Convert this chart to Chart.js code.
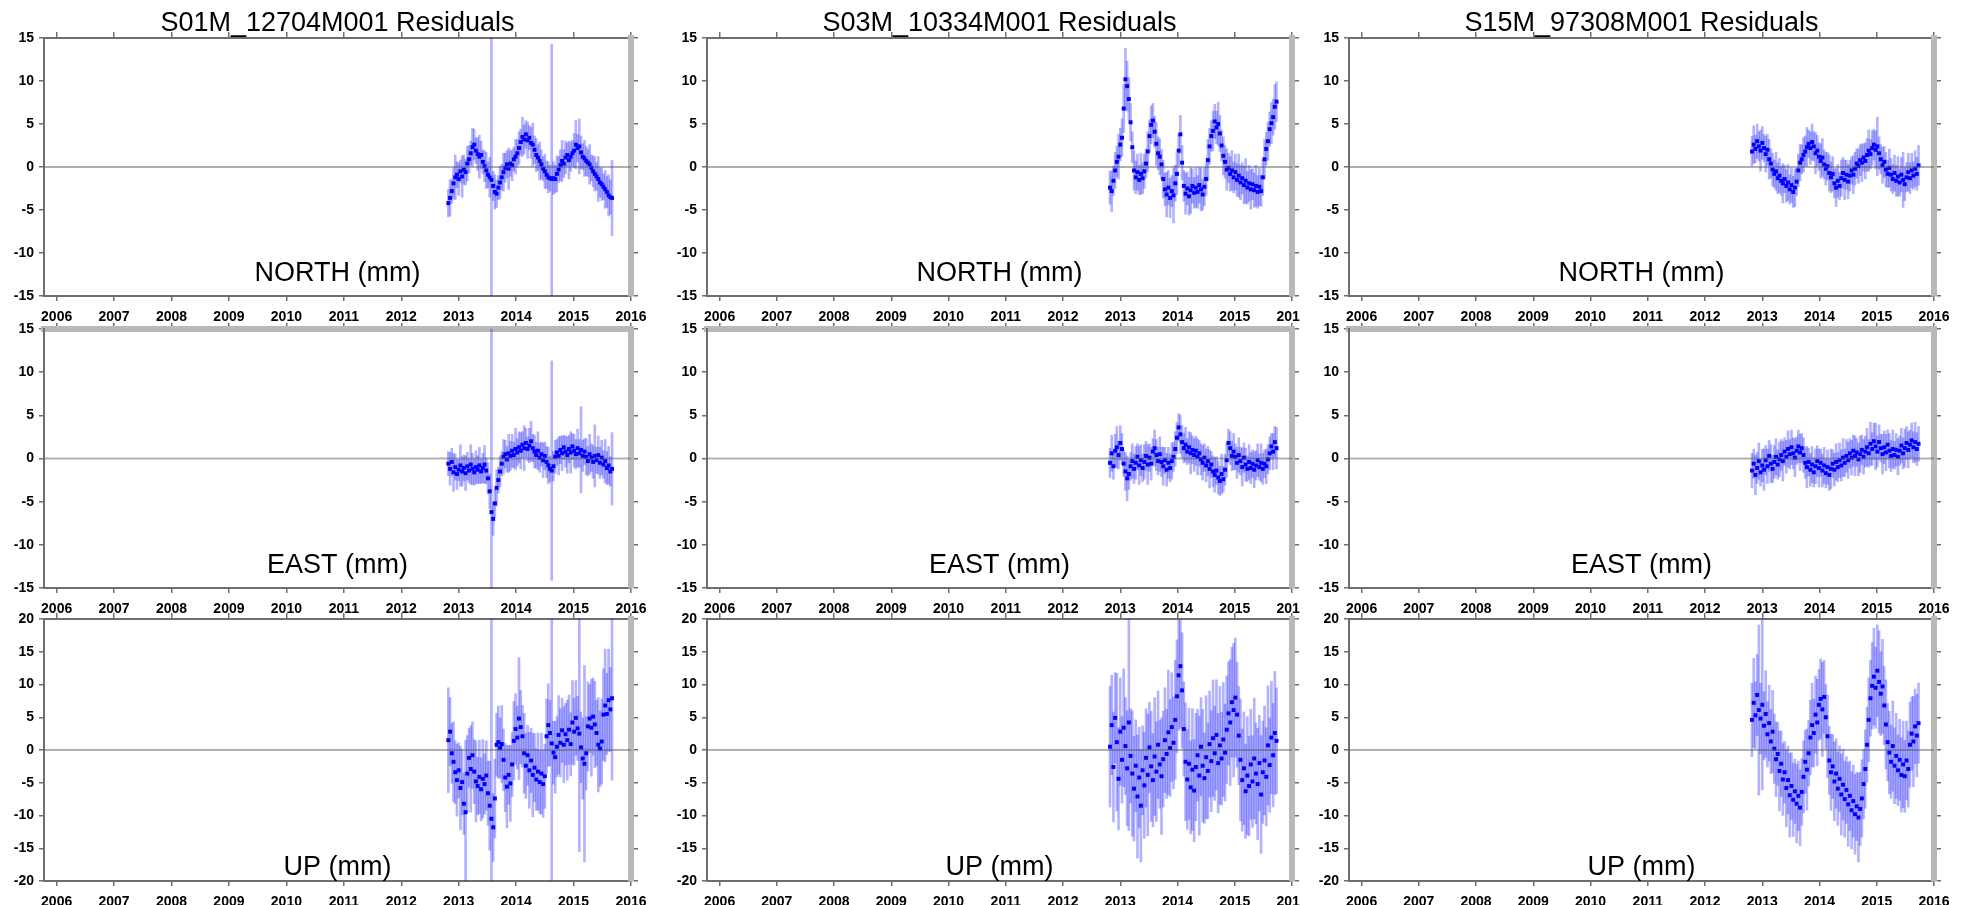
<!DOCTYPE html>
<html><head><meta charset="utf-8">
<script src="https://cdn.jsdelivr.net/npm/chart.js@4.4.1/dist/chart.umd.min.js"></script>
<style>
html,body{margin:0;padding:0;background:#fff;width:1968px;height:905px;overflow:hidden;position:relative}
canvas{position:absolute}
</style></head><body>
<script>
// ---------- DATA ----------
const TITLES = ['S01M_12704M001 Residuals', 'S03M_10334M001 Residuals', 'S15M_97308M001 Residuals'];
const COMPONENTS = ['NORTH (mm)', 'EAST (mm)', 'UP (mm)'];
const YEAR_TICKS = [2006, 2007, 2008, 2009, 2010, 2011, 2012, 2013, 2014, 2015, 2016];
const NE_TICKS = [-15, -10, -5, 0, 5, 10, 15];
const UP_TICKS = [-20, -15, -10, -5, 0, 5, 10, 15, 20];
const X_MIN = 2005.78, X_MAX = 2016.0;

const DATES_S01M = [
2012.82,2012.85,2012.88,2012.91,2012.94,2012.97,2013.00,2013.03,2013.06,2013.09,
2013.12,2013.15,2013.18,2013.21,2013.24,2013.27,2013.30,2013.33,2013.36,2013.39,
2013.42,2013.45,2013.48,2013.51,2013.54,2013.57,2013.60,2013.63,2013.66,2013.69,
2013.72,2013.75,2013.78,2013.81,2013.84,2013.87,2013.90,2013.93,2013.96,2013.99,
2014.02,2014.05,2014.08,2014.11,2014.14,2014.17,2014.20,2014.23,2014.26,2014.29,
2014.32,2014.35,2014.38,2014.41,2014.44,2014.47,2014.50,2014.53,2014.56,2014.59,
2014.62,2014.65,2014.68,2014.71,2014.74,2014.77,2014.80,2014.83,2014.86,2014.89,
2014.92,2014.95,2014.98,2015.01,2015.04,2015.07,2015.10,2015.13,2015.16,2015.19,
2015.22,2015.25,2015.28,2015.31,2015.34,2015.37,2015.40,2015.43,2015.46,2015.49,
2015.52,2015.55,2015.58,2015.61,2015.64,2015.67];
const N_S01M = [
-4.2,-3.6,-2.8,-1.9,-1.2,-0.9,-1.4,-0.5,-1.1,-0.3,
-0.6,0.4,0.9,1.6,2.3,2.6,1.9,1.5,1.2,1.4,
0.6,0.1,-0.4,-0.9,-1.2,-1.5,-2.2,-2.9,-3.1,-2.4,
-1.8,-1.2,-0.6,-0.1,0.3,-0.2,0.4,0.2,0.9,1.2,
1.6,2.2,2.9,3.5,3.2,3.8,3.1,3.4,2.8,2.6,
2.0,1.4,1.1,0.7,0.3,-0.2,-0.5,-0.9,-1.2,-1.3,
-1.4,-1.3,-1.4,-0.8,-0.3,0.2,0.7,0.4,1.1,1.4,
0.8,1.2,1.6,1.9,2.6,2.2,2.4,1.7,1.2,1.0,
0.7,0.5,0.3,-0.1,-0.5,-0.8,-1.1,-1.4,-1.8,-2.0,
-2.3,-2.6,-2.9,-3.3,-3.5,-3.6];
const SN_S01M = [
1.6,2.1,1.4,1.8,2.6,1.5,1.9,1.3,2.4,1.7,
1.5,2.0,1.6,1.4,2.2,1.8,1.5,1.9,2.5,1.6,
1.4,1.8,2.1,1.5,2.3,30,1.7,2.0,1.6,1.4,
1.9,1.5,2.2,1.7,1.6,2.4,1.5,1.8,1.4,2.0,
1.6,1.9,1.5,2.3,1.7,1.6,2.1,1.4,1.8,2.5,
1.6,1.9,1.5,2.2,1.7,1.4,2.0,1.6,1.8,1.5,
15.7,1.9,1.6,2.1,1.5,1.8,2.4,1.6,1.9,1.4,
2.2,1.7,1.5,2.0,2.8,1.6,3.2,1.9,1.5,2.1,
1.7,1.6,2.3,1.5,1.8,2.0,1.6,2.6,1.7,1.9,
1.5,2.2,1.8,2.4,2.0,4.4];
const E_S01M = [
-0.6,-1.2,-0.4,-1.6,-1.0,-1.8,-1.3,-0.8,-1.5,-1.1,
-1.7,-0.9,-1.4,-0.7,-1.2,-1.6,-1.0,-1.3,-0.8,-1.5,
-1.1,-0.7,-1.4,-2.3,-3.8,-6.2,-7.0,-5.2,-3.4,-2.5,
-1.5,-0.6,0.2,0.5,-0.1,0.6,0.3,0.9,0.4,1.1,
0.7,1.3,0.9,1.6,1.2,1.8,1.1,1.5,2.0,1.2,
0.8,0.4,0.9,0.1,0.5,-0.2,0.3,-0.4,-0.8,-1.2,
-1.4,-0.9,0.2,0.7,0.3,1.0,0.6,1.3,0.8,0.4,
1.1,0.7,1.4,0.9,0.5,1.2,0.6,1.0,0.3,0.8,
0.2,-0.3,0.5,0.1,-0.4,0.3,-0.2,0.4,-0.5,0.1,
-0.7,-0.3,-1.1,-0.8,-1.5,-1.2];
const SE_S01M = [
1.4,1.9,1.6,2.2,1.5,1.8,1.3,2.4,1.7,1.5,
2.0,1.6,1.4,2.3,1.8,1.5,1.9,1.6,2.1,1.4,
1.7,2.2,1.5,1.8,2.0,25,1.9,1.6,2.1,1.5,
1.8,1.4,2.0,1.6,1.5,2.2,1.7,1.9,1.5,2.4,
1.6,1.8,2.1,1.5,2.6,1.7,1.4,2.0,2.3,1.6,
1.9,1.5,2.2,1.7,1.4,2.0,1.6,1.8,2.1,1.5,
12.7,1.7,1.9,1.5,2.2,1.6,2.0,1.4,1.8,2.1,
1.6,2.4,1.5,1.9,1.7,2.2,1.6,5.0,1.8,1.5,
2.1,1.7,2.3,1.6,1.9,3.6,1.5,2.2,1.8,2.0,
1.6,2.5,1.9,2.2,1.7,4.2];
const U_S01M = [
1.5,2.8,-0.5,-1.8,-3.4,-4.6,-3.1,-5.8,-4.9,-8.2,
-9.5,-3.6,-1.2,-2.9,-0.8,-3.3,-4.8,-5.5,-4.1,-6.0,
-4.4,-5.2,-3.9,-6.6,-8.5,-10.5,-11.8,-7.4,0.8,1.2,
0.3,0.9,-1.5,-4.2,-5.6,-3.8,-5.1,-2.2,1.4,3.2,
1.9,4.8,3.5,2.1,-0.5,-2.4,-0.8,-3.1,-1.6,-3.8,
-2.7,-4.5,-3.3,-4.9,-3.6,-5.2,-4.0,2.1,3.8,2.6,
1.0,-0.4,-1.1,0.5,2.3,1.1,3.0,0.8,2.4,1.5,
3.1,0.9,4.2,2.8,4.9,3.3,2.5,0.4,-1.3,-2.1,
-0.5,3.6,4.8,3.4,5.1,3.9,2.6,0.8,0.2,1.3,
5.4,6.8,5.5,7.6,6.2,7.9];
const SU_S01M = [
8.0,5.2,4.6,6.1,4.8,5.5,4.2,6.4,5.0,4.7,
11.0,5.8,4.5,6.6,5.1,4.9,6.2,4.4,5.6,4.8,
6.0,4.6,5.3,4.9,6.8,35,5.2,6.0,4.8,5.5,
4.6,5.9,4.7,5.2,6.3,4.5,5.8,4.9,6.0,5.4,
4.8,9.3,5.6,4.7,6.1,5.0,4.6,5.8,4.9,6.4,
5.2,4.7,5.9,4.8,6.2,5.1,4.9,5.7,6.3,5.0,
30,4.8,5.5,4.6,6.0,5.2,4.9,5.8,4.7,6.1,
5.3,4.8,6.4,5.1,5.7,4.9,18,5.4,6.2,15,
5.6,6.8,5.2,7.4,5.9,6.6,5.0,7.2,5.8,6.5,
7.0,8.6,6.2,7.8,6.4,12.5];

const DATES_S03M = [
2012.82,2012.85,2012.88,2012.91,2012.94,2012.97,2013.00,2013.03,2013.06,2013.09,
2013.12,2013.15,2013.18,2013.21,2013.24,2013.27,2013.30,2013.33,2013.36,2013.39,
2013.42,2013.45,2013.48,2013.51,2013.54,2013.57,2013.60,2013.63,2013.66,2013.69,
2013.72,2013.75,2013.78,2013.81,2013.84,2013.87,2013.90,2013.93,2013.96,2013.99,
2014.02,2014.05,2014.08,2014.11,2014.14,2014.17,2014.20,2014.23,2014.26,2014.29,
2014.32,2014.35,2014.38,2014.41,2014.44,2014.47,2014.50,2014.53,2014.56,2014.59,
2014.62,2014.65,2014.68,2014.71,2014.74,2014.77,2014.80,2014.83,2014.86,2014.89,
2014.92,2014.95,2014.98,2015.01,2015.04,2015.07,2015.10,2015.13,2015.16,2015.19,
2015.22,2015.25,2015.28,2015.31,2015.34,2015.37,2015.40,2015.43,2015.46,2015.49,
2015.52,2015.55,2015.58,2015.61,2015.64,2015.67,2015.70,2015.73];
const N_S03M = [
-2.4,-2.8,-1.6,-0.4,0.6,1.2,2.6,3.4,6.8,10.2,
9.4,7.9,5.2,2.3,-0.4,-1.2,-0.6,-1.5,-0.8,-1.3,
-0.5,0.4,1.8,3.6,4.9,5.4,4.1,2.7,1.6,1.2,
0.3,-1.4,-2.6,-3.2,-2.4,-3.6,-2.8,-3.3,-1.9,-0.8,
1.9,3.8,0.5,-2.2,-3.1,-2.5,-3.4,-2.7,-2.2,-3.0,
-2.4,-2.9,-2.1,-2.6,-3.2,-2.3,-1.4,0.8,2.4,3.6,
4.2,5.3,4.6,5.0,3.9,2.5,1.3,0.6,-0.3,-0.1,
-0.8,-0.4,-1.2,-0.6,-1.5,-1.0,-1.8,-1.3,-2.1,-1.6,
-2.4,-1.9,-2.6,-2.0,-2.7,-2.2,-2.9,-2.3,-2.8,-1.2,
0.9,2.1,3.0,4.4,5.1,5.8,7.0,7.6];
const SN_S03M = [
1.9,2.4,1.7,2.1,1.8,2.6,1.9,2.2,2.8,3.6,
2.9,2.5,2.2,1.8,2.3,1.9,2.1,1.7,2.4,1.8,
2.0,1.7,2.3,1.9,2.2,2.0,1.8,2.5,1.9,2.1,
1.7,2.2,1.9,2.6,2.0,2.3,1.8,3.2,2.1,2.4,
1.9,2.2,2.0,1.8,2.4,1.9,2.2,2.7,2.0,1.8,
2.3,1.9,2.1,2.5,1.8,2.2,1.9,2.4,2.1,1.8,
2.3,2.0,1.9,2.5,2.1,1.8,2.2,1.9,2.4,1.7,
2.0,2.3,1.8,2.1,1.9,2.5,2.0,1.8,2.2,2.6,
1.9,2.1,2.3,1.8,2.0,2.4,1.9,2.2,1.8,2.1,
2.3,1.9,2.2,2.0,2.4,2.1,2.6,2.3];
const E_S03M = [
-0.5,0.6,-0.9,0.9,1.3,0.4,1.8,1.1,-0.6,-1.5,
-2.3,-1.8,-0.9,-0.3,-1.2,-0.5,0.2,-0.8,-0.2,-1.1,
-0.4,0.3,-0.7,0.1,-0.6,0.8,1.2,0.4,-0.3,0.5,
-0.4,-0.9,-0.2,-1.3,-0.5,-1.1,-0.3,0.2,1.1,2.4,
3.6,2.8,1.9,1.2,1.6,0.8,1.3,0.6,1.0,0.4,
0.9,0.2,0.6,-0.1,-0.5,0.1,-0.8,-0.3,-1.2,-0.7,
-1.5,-1.9,-1.4,-2.2,-2.6,-1.8,-2.4,-1.3,-0.2,1.8,
1.2,0.3,0.8,0.2,-0.5,0.4,-0.3,-1.0,0.1,-0.7,
-1.2,-0.4,-1.1,-0.6,-1.3,-0.8,-0.2,-1.0,-0.5,-1.2,
-0.6,-0.9,-0.1,0.6,1.4,0.8,1.9,1.2];
const SE_S03M = [
1.7,2.1,1.5,1.9,2.4,1.6,2.0,1.8,1.5,2.2,
2.6,1.8,1.6,2.0,1.7,1.9,1.5,2.2,1.8,1.6,
2.0,1.7,2.3,1.6,1.9,1.5,2.1,1.8,1.6,2.0,
1.7,2.2,1.5,1.9,1.8,1.6,2.1,1.7,2.0,1.8,
1.6,2.2,1.9,1.7,2.0,1.5,1.8,2.4,1.6,1.9,
1.7,2.1,1.5,1.8,2.0,1.6,1.9,1.7,2.2,1.5,
1.8,2.0,1.6,1.9,1.7,2.3,1.5,1.8,2.0,1.6,
1.9,1.7,2.1,1.5,1.8,2.0,1.6,2.2,1.7,1.9,
1.5,2.0,1.8,1.6,2.1,1.7,1.9,1.5,2.2,1.8,
1.6,2.0,1.7,1.9,1.5,2.1,1.8,2.4];
const U_S03M = [
0.5,3.8,-2.6,4.9,1.2,-4.4,2.8,-1.5,3.4,0.6,
-2.8,4.2,-0.9,-3.6,-5.9,-2.4,-7.1,-4.2,-8.5,-3.1,
-5.4,-1.2,-3.8,0.4,-2.5,-4.6,-1.0,-3.3,0.8,-2.2,
-4.0,-1.4,1.5,-0.6,2.7,0.3,3.5,1.1,4.6,8.2,
11.4,12.8,9.1,3.2,-1.8,-4.5,-2.1,-5.7,-3.0,-6.2,
-2.6,-0.8,-3.9,0.5,-2.4,-4.3,-1.1,-3.2,0.9,-1.7,
1.8,-0.5,2.3,-2.0,0.7,-1.3,1.6,-0.4,3.1,5.6,
4.2,7.3,6.1,8.0,5.4,2.2,-1.5,-4.6,-2.8,-6.3,
-3.9,-5.5,-2.2,-4.8,-1.3,-3.6,-5.2,-2.0,-6.8,-3.4,
-1.6,-4.1,0.7,-2.3,1.9,-0.8,2.6,1.4];
const SU_S03M = [
9.2,7.6,8.4,6.9,10.5,7.8,8.2,6.6,9.0,7.4,
8.8,16.5,7.2,9.6,8.0,7.0,9.4,7.7,8.6,6.8,
8.1,7.5,9.3,6.9,8.4,7.1,9.0,7.6,8.2,6.7,
8.9,7.3,8.0,6.8,9.5,7.4,8.3,7.0,9.1,8.6,
8.4,9.5,8.8,7.2,9.0,7.6,8.5,7.1,9.3,7.8,
8.2,7.0,9.1,7.5,8.6,6.9,9.4,7.3,8.1,7.7,
8.9,7.2,8.4,7.6,9.0,7.1,8.7,7.4,8.2,7.9,
9.6,8.4,10.2,9.1,8.0,7.5,9.3,7.8,8.6,7.2,
9.0,7.6,8.4,7.0,9.2,7.7,8.5,7.3,9.0,7.8,
8.3,7.5,9.1,7.2,8.6,7.9,9.4,8.1];

const DATES_S15M = [
2012.82,2012.85,2012.88,2012.91,2012.94,2012.97,2013.00,2013.03,2013.06,2013.09,
2013.12,2013.15,2013.18,2013.21,2013.24,2013.27,2013.30,2013.33,2013.36,2013.39,
2013.42,2013.45,2013.48,2013.51,2013.54,2013.57,2013.60,2013.63,2013.66,2013.69,
2013.72,2013.75,2013.78,2013.81,2013.84,2013.87,2013.90,2013.93,2013.96,2013.99,
2014.02,2014.05,2014.08,2014.11,2014.14,2014.17,2014.20,2014.23,2014.26,2014.29,
2014.32,2014.35,2014.38,2014.41,2014.44,2014.47,2014.50,2014.53,2014.56,2014.59,
2014.62,2014.65,2014.68,2014.71,2014.74,2014.77,2014.80,2014.83,2014.86,2014.89,
2014.92,2014.95,2014.98,2015.01,2015.04,2015.07,2015.10,2015.13,2015.16,2015.19,
2015.22,2015.25,2015.28,2015.31,2015.34,2015.37,2015.40,2015.43,2015.46,2015.49,
2015.52,2015.55,2015.58,2015.61,2015.64,2015.67,2015.70,2015.73];
const N_S15M = [
1.8,2.6,2.1,3.0,2.4,1.9,2.8,2.2,1.5,2.0,
0.9,0.4,-0.3,-0.8,-0.5,-1.3,-1.0,-1.6,-1.9,-1.4,
-2.2,-1.8,-2.6,-2.1,-2.9,-2.4,-1.7,-0.4,0.5,0.9,
1.4,1.8,2.3,2.7,2.2,2.9,2.4,1.6,1.9,1.2,
0.7,1.1,0.3,-0.2,0.1,-0.7,-1.2,-0.8,-1.9,-2.4,
-1.6,-2.2,-1.3,-0.7,-1.5,-0.9,-1.7,-1.0,-0.4,-0.9,
-0.2,0.4,0.1,0.8,0.5,1.1,0.7,1.4,1.9,1.5,
2.2,2.6,2.0,2.4,1.6,0.9,0.2,0.6,-0.3,-0.8,
-0.1,-0.9,-1.4,-0.7,-1.6,-1.1,-1.8,-0.9,-1.5,-2.0,
-1.2,-0.6,-1.3,-0.4,-1.0,-0.2,-0.8,0.2];
const SN_S15M = [
1.8,2.2,1.6,2.0,1.7,2.4,1.9,1.6,2.1,1.8,
2.3,1.7,1.9,1.6,2.2,1.8,2.0,1.7,2.3,1.6,
1.9,2.1,1.7,2.0,1.8,2.2,1.6,1.9,2.1,1.7,
2.0,1.8,2.3,1.6,1.9,2.1,1.7,2.4,1.8,1.6,
2.0,2.2,1.7,1.9,1.6,2.1,1.8,2.0,1.7,2.2,
1.9,1.6,2.1,1.8,2.3,1.7,2.0,1.8,1.6,2.2,
1.9,1.7,2.0,1.8,2.2,1.6,2.1,1.9,2.4,1.7,
2.0,1.8,2.2,3.4,1.9,1.7,2.1,1.8,2.0,1.6,
2.2,1.9,1.7,2.1,1.8,2.3,1.6,2.0,3.2,1.9,
1.7,2.2,1.8,2.0,1.6,2.1,1.9,2.3];
const E_S15M = [
-1.4,-0.6,-1.9,-1.1,-0.3,-1.6,-0.8,-1.3,-0.2,-0.9,
0.3,-0.6,-1.2,-0.4,0.2,-0.7,-0.1,0.4,-0.3,0.8,
0.2,1.1,0.5,1.3,0.6,0.1,0.9,1.4,0.7,1.2,
0.4,-0.5,-1.0,-0.4,-1.3,-0.7,-1.6,-0.9,-0.3,-1.1,
-0.5,-1.4,-0.8,-1.7,-1.0,-1.9,-1.2,-0.6,-1.3,-0.4,
-1.0,-0.2,-0.8,0.1,-0.5,0.3,-0.2,0.6,0.1,0.9,
0.3,0.7,-0.1,0.5,1.0,0.2,0.8,1.3,0.6,1.7,
1.1,2.0,1.4,0.8,1.9,1.2,0.5,1.3,0.7,1.6,
0.9,0.3,1.1,0.4,1.0,0.2,0.9,1.5,0.6,1.2,
1.8,1.0,1.6,2.1,1.3,1.9,1.1,1.7];
const SE_S15M = [
2.0,1.7,2.3,1.8,2.1,1.6,1.9,2.4,1.7,2.0,
1.8,2.2,1.6,1.9,2.1,1.7,2.0,1.8,2.3,1.6,
1.9,2.1,1.7,2.0,1.8,2.2,1.6,1.9,2.1,1.7,
2.0,1.8,2.4,1.6,1.9,2.1,1.7,2.0,1.8,2.2,
1.6,1.9,2.1,1.7,2.0,1.8,2.3,1.6,1.9,2.1,
1.7,2.0,1.8,2.2,1.6,1.9,2.1,1.7,2.0,1.8,
2.3,1.6,1.9,2.1,1.7,2.0,1.8,2.2,1.6,2.5,
1.9,2.1,2.7,1.8,2.0,1.6,2.3,1.9,2.1,1.7,
2.0,1.8,2.2,1.6,1.9,2.1,1.7,2.0,1.8,2.2,
1.9,2.1,1.7,2.0,1.8,2.3,1.9,2.0];
const U_S15M = [
4.6,7.2,5.3,8.4,6.1,4.8,6.9,3.7,5.5,2.4,
4.1,1.3,2.8,0.2,-1.4,-0.6,-3.2,-2.1,-4.5,-3.4,
-5.8,-4.6,-6.9,-5.5,-7.6,-6.3,-8.2,-7.0,-8.8,-6.4,
-4.1,-1.8,-3.0,-0.5,1.9,3.8,2.6,5.4,4.2,6.9,
7.8,6.2,8.1,5.0,2.1,-1.6,-3.4,-2.5,-4.8,-3.6,
-5.9,-4.4,-6.8,-5.3,-7.5,-6.1,-8.3,-7.0,-9.2,-7.8,
-9.8,-8.6,-10.3,-9.0,-7.4,-5.2,-2.9,0.8,4.6,7.9,
9.8,11.2,9.5,12.1,10.4,8.6,9.7,6.8,3.9,1.2,
-0.4,-1.8,0.6,-2.4,-0.9,-3.1,-1.5,-3.8,-2.2,-4.0,
-1.6,-2.9,0.8,2.5,1.3,3.6,2.2,4.1];
const SU_S15M = [
5.6,6.8,5.1,6.2,13.0,5.4,13.0,5.2,6.6,5.0,
5.8,4.9,6.3,5.3,5.7,4.8,6.1,5.0,5.5,4.7,
5.9,5.2,6.4,5.1,5.6,4.9,6.0,5.3,5.8,5.1,
5.5,4.8,6.2,5.0,5.7,6.4,5.2,5.9,6.6,5.4,
6.1,7.2,5.6,5.0,6.3,5.2,5.8,4.9,6.0,5.3,
5.6,5.0,6.2,5.4,5.8,5.1,6.4,5.3,5.9,5.5,
6.1,5.2,6.8,5.6,5.9,5.3,6.0,5.7,6.4,5.8,
6.6,7.4,6.2,7.0,7.8,6.4,7.2,6.0,6.8,5.9,
6.3,5.6,6.9,5.8,6.5,5.4,6.2,5.7,6.6,5.5,
6.0,5.8,6.5,5.6,6.9,5.7,6.3,6.1];

// ---------- LAYOUT ----------
const COL_LEFT = [44, 707, 1349], COL_RIGHT = [631, 1292, 1934];
const COL_RIGHT_SPACE = [22, 8, 22];
const ROW_TOP = [38, 329, 619], ROW_BOTTOM = [296, 588, 881];
const LABEL_OFFSET = [15, 15, 6];
const FONT = '"Liberation Sans", Arial, Helvetica, sans-serif';
const AXIS_DARK = '#6e6e6e', AXIS_LIGHT = '#b9b9b9';

const STATIONS = [
  {dates: DATES_S01M, vals: [N_S01M, E_S01M, U_S01M], sig: [SN_S01M, SE_S01M, SU_S01M]},
  {dates: DATES_S03M, vals: [N_S03M, E_S03M, U_S03M], sig: [SN_S03M, SE_S03M, SU_S03M]},
  {dates: DATES_S15M, vals: [N_S15M, E_S15M, U_S15M], sig: [SN_S15M, SE_S15M, SU_S15M]}
];

const panelText = {
  id: 'panelText',
  afterDraw(chart, args, opts) {
    const {ctx, chartArea} = chart;
    ctx.save();
    ctx.fillStyle = '#000';
    ctx.font = '27px ' + FONT;
    ctx.textAlign = 'center';
    ctx.textBaseline = 'alphabetic';
    const cx = (chartArea.left + chartArea.right) / 2;
    ctx.fillText(opts.label, cx, chartArea.bottom - opts.offset);
    if (opts.title) ctx.fillText(opts.title, cx, chartArea.top - 7);
    ctx.restore();
  }
};

function makePanel(r, c) {
  const st = STATIONS[c];
  const dates = st.dates, vals = st.vals[r], sig = st.sig[r];
  const ticks = r === 2 ? UP_TICKS : NE_TICKS;
  const yMin = ticks[0], yMax = ticks[ticks.length - 1];
  const topSpace = r === 0 ? ROW_TOP[0] : 10;
  const LEFT_W = 44, RIGHT_W = COL_RIGHT_SPACE[c], BOTTOM_H = 34;
  const canvas = document.createElement('canvas');
  const W = COL_RIGHT[c] - COL_LEFT[c] + LEFT_W + RIGHT_W;
  const H = ROW_BOTTOM[r] - ROW_TOP[r] + topSpace + BOTTOM_H;
  canvas.width = W; canvas.height = H;
  canvas.style.left = (COL_LEFT[c] - LEFT_W) + 'px';
  canvas.style.top = (ROW_TOP[r] - topSpace) + 'px';
  canvas.style.width = W + 'px'; canvas.style.height = H + 'px';
  document.body.appendChild(canvas);

  const setTicks = arr => s => { s.ticks = arr.map(v => ({value: v})); };
  const tickFont = {family: FONT, size: 14, weight: 'bold'};

  new Chart(canvas, {
    type: 'scatter',
    data: {
      datasets: [
        {
          type: 'line', order: 0,
          data: [{x: X_MIN, y: 0}, {x: X_MAX, y: 0}],
          borderColor: 'rgba(80,80,80,0.45)', borderWidth: 2,
          pointRadius: 0, fill: false
        },
        {
          type: 'scatter', order: 1,
          data: dates.map((d, i) => ({x: d, y: vals[i]})),
          pointStyle: 'rect', pointRadius: 2.8,
          backgroundColor: '#0000ff', pointBackgroundColor: '#0000ff',
          borderWidth: 0, pointBorderWidth: 0, showLine: false
        },
        {
          type: 'bar', order: 2,
          data: dates.map((d, i) => ({x: d, y: [vals[i] - sig[i], vals[i] + sig[i]]})),
          backgroundColor: 'rgba(0,0,255,0.3)', borderWidth: 0,
          barThickness: 2, grouped: false
        }
      ]
    },
    options: {
      responsive: false, animation: false, events: [],
      layout: {padding: 0},
      plugins: {
        legend: {display: false}, tooltip: {enabled: false},
        panelText: {label: COMPONENTS[r], offset: LABEL_OFFSET[r], title: r === 0 ? TITLES[c] : null}
      },
      scales: {
        x: {
          type: 'linear', position: 'bottom', min: X_MIN, max: X_MAX, offset: false,
          afterBuildTicks: setTicks(YEAR_TICKS),
          afterFit: s => { s.height = BOTTOM_H; s.paddingLeft = 0; s.paddingRight = 0; },
          ticks: {autoSkip: false, maxRotation: 0, minRotation: 0, padding: 8, color: '#000', font: tickFont, callback: v => String(v)},
          grid: {offset: false, drawOnChartArea: false, drawTicks: true, tickLength: 5, color: AXIS_DARK, tickColor: AXIS_DARK, lineWidth: 1.5},
          border: {display: true, color: AXIS_DARK, width: 2}
        },
        x2: {
          type: 'linear', position: 'top', min: X_MIN, max: X_MAX, offset: false,
          afterBuildTicks: setTicks(YEAR_TICKS),
          afterFit: s => { s.height = topSpace; s.paddingLeft = 0; s.paddingRight = 0; },
          ticks: {display: false},
          grid: {offset: false, drawOnChartArea: false, drawTicks: true, tickLength: 6, color: AXIS_DARK, tickColor: AXIS_DARK, lineWidth: 1.5},
          border: {display: true, color: r === 1 ? AXIS_LIGHT : AXIS_DARK, width: r === 1 ? 6 : 2}
        },
        y: {
          type: 'linear', position: 'left', min: yMin, max: yMax,
          afterBuildTicks: setTicks(ticks),
          afterFit: s => { s.width = LEFT_W; s.paddingTop = 0; s.paddingBottom = 0; },
          ticks: {autoSkip: false, padding: 5, color: '#000', font: tickFont, callback: v => String(v)},
          grid: {drawOnChartArea: false, drawTicks: true, tickLength: 5, color: AXIS_DARK, tickColor: AXIS_DARK, lineWidth: 1.5},
          border: {display: true, color: AXIS_DARK, width: 2}
        },
        y2: {
          type: 'linear', position: 'right', min: yMin, max: yMax,
          afterBuildTicks: setTicks(ticks),
          afterFit: s => { s.width = RIGHT_W; s.paddingTop = 0; s.paddingBottom = 0; },
          ticks: {display: false},
          grid: {drawOnChartArea: false, drawTicks: true, tickLength: 7, color: AXIS_DARK, tickColor: AXIS_DARK, lineWidth: 1.5},
          border: {display: true, color: AXIS_LIGHT, width: 6}
        }
      }
    },
    plugins: [panelText]
  });
}

for (let r = 0; r < 3; r++) for (let c = 0; c < 3; c++) makePanel(r, c);
</script>
</body></html>
